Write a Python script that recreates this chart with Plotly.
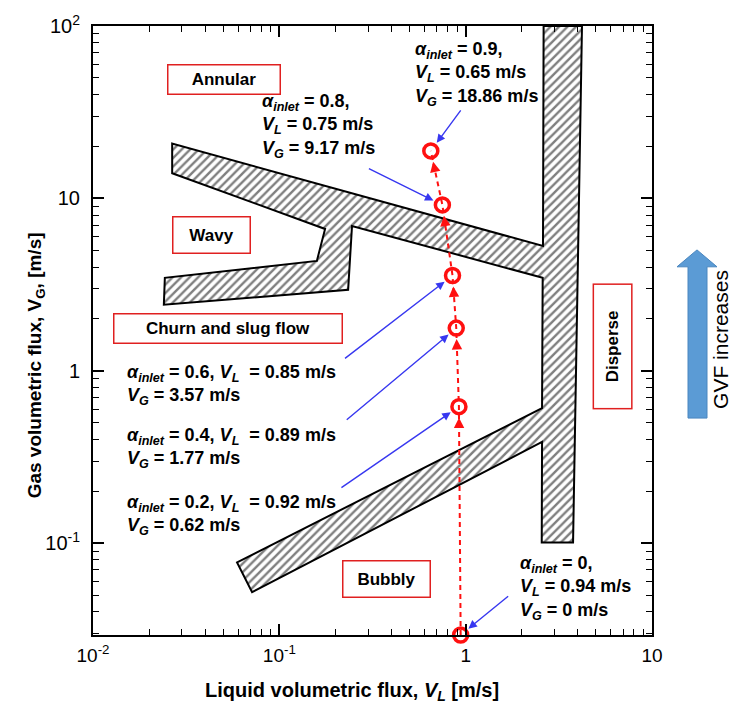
import numpy as np
import plotly.graph_objects as go

# ---------------- data ----------------
alpha_inlet = [0, 0.2, 0.4, 0.6, 0.8, 0.9]
VL = [0.94, 0.92, 0.89, 0.85, 0.75, 0.65]          # liquid volumetric flux [m/s]
VG = [0.0, 0.62, 1.77, 3.57, 9.17, 18.86]          # gas volumetric flux [m/s]

# flow-regime transition band (hatched), outline vertices in data units
band_x = [2.62, 2.60, 0.0266, 0.0266, 0.176, 0.159, 0.0243, 0.0240, 0.234, 0.2455,
          2.59, 2.57, 0.0593, 0.0714, 2.57, 2.56, 3.77, 4.21, 2.62]
band_y = [100, 5.30, 20.8, 14.0, 6.65, 4.34, 3.465, 2.42, 2.95, 6.92,
          3.465, 0.6075, 0.0775, 0.052, 0.387, 0.101, 0.101, 100, 100]

regime_labels = ["Annular", "Wavy", "Churn and slug flow", "Bubbly", "Disperse"]

x_tickvals = [0.01, 0.1, 1, 10]
x_ticktext = ["10<sup>-2</sup>", "10<sup>-1</sup>", "1", "10"]
y_tickvals = [0.1, 1, 10, 100]
y_ticktext = ["10<sup>-1</sup>", "1", "10", "10<sup>2</sup>"]

X_RANGE = [-2, 1]
Y_RANGE = [-1.532, 2]

# ---------------- layout geometry ----------------
W, H = 747, 703
ML, MR, MT, MB = 93, 95, 23, 68
PW, PH = W - ML - MR, H - MT - MB
pxx = PW / (X_RANGE[1] - X_RANGE[0])
pxy = PH / (Y_RANGE[1] - Y_RANGE[0])

def px(xp):
    return (xp - ML) / PW

def py(yp):
    return (H - MB - yp) / PH

VG_plot = [v if v > 0 else 10 ** Y_RANGE[0] for v in VG]

FONT = "Arial, Liberation Sans, sans-serif"

minor_x = [m * 10.0 ** e for e in (-2, -1, 0) for m in range(2, 10)]
minor_y = [m * 10.0 ** e for e in (-2, -1, 0, 1) for m in range(2, 10)
           if 10 ** Y_RANGE[0] <= m * 10.0 ** e <= 100]

fig = go.Figure()

# hatched band
fig.add_trace(go.Scatter(
    x=band_x, y=band_y, mode="lines", fill="toself",
    fillcolor="white",
    fillpattern=dict(shape="/", fgcolor="black", bgcolor="white", size=6, solidity=0.4),
    line=dict(color="black", width=2), hoverinfo="skip", showlegend=False))

# red dashed path
fig.add_trace(go.Scatter(
    x=VL, y=VG_plot, mode="lines",
    line=dict(color="#FF1010", width=2, dash="5px,4px"),
    hoverinfo="skip", showlegend=False, cliponaxis=False))

# red circles
fig.add_trace(go.Scatter(
    x=VL, y=VG_plot, mode="markers",
    marker=dict(symbol="circle-open", size=14, color="#FF1010", line=dict(width=3.5, color="#FF1010")),
    showlegend=False, cliponaxis=False))

ann = []

# arrowheads along the dashed path
for i in range(1, len(VL)):
    dx = (np.log10(VL[i]) - np.log10(VL[i - 1])) * pxx
    dy = (np.log10(VG_plot[i]) - np.log10(VG_plot[i - 1])) * pxy
    n = np.hypot(dx, dy)
    L = 22
    ann.append(dict(x=np.log10(VL[i]), y=np.log10(VG_plot[i]), xref="x", yref="y",
                    ax=-dx / n * L, ay=dy / n * L, text="", showarrow=True,
                    arrowhead=2, arrowsize=1.3, arrowwidth=1.6, arrowcolor="#FF1010",
                    standoff=11))

# blue pointer arrows (pixel offsets of text end relative to point)
blue_offsets = [(49, -40), (-119, 82), (-111, 93), (-109, 84), (-75, -37), (31, -42)]
for i, (ox, oy) in enumerate(blue_offsets):
    ann.append(dict(x=np.log10(VL[i]), y=np.log10(VG_plot[i]), xref="x", yref="y",
                    ax=ox, ay=oy, text="", showarrow=True, arrowhead=2, arrowsize=1.2,
                    arrowwidth=1.4, arrowcolor="#3737F0", standoff=10))

# data annotations text
SP = "&nbsp;"
def lbl(i, inline):
    a = f"<i>α<sub>inlet</sub></i> = {alpha_inlet[i]:g},"
    vl = (f"<i>V<sub>L</sub></i>{SP}= {VL[i]:g} m/s" if not inline
          else f"<i>V<sub>L</sub></i>{SP}{SP}= {VL[i]:g} m/s")
    vg = f"<i>V<sub>G</sub></i>{SP}= {VG[i]:g} m/s"
    if inline:
        return f"<b>{a} {vl}<br>{vg}</b>"
    return f"<b>{a}<br>{vl}<br>{vg}</b>"

text_pos = {0: (518, 587.5, False), 1: (125, 514, True), 2: (125, 447, True),
            3: (125, 384, True), 4: (260, 123.5, False), 5: (413, 71.5, False)}
for i, (xl, yc, inline) in text_pos.items():
    ann.append(dict(x=px(xl), y=py(yc), xref="paper", yref="paper", xanchor="left",
                    yanchor="middle", align="left", showarrow=False, text=lbl(i, inline),
                    font=dict(family=FONT, size=18, color="black")))

# regime boxes: (center x, center y, width, height, angle)
boxes = [(223.5, 76.5, 107, 24, 0), (211, 233.5, 72, 31, 0), (227.5, 327, 223, 24, 0),
         (386, 578.5, 82, 31, 0), (612.5, 345.5, 119, 33, -90)]
for name, (cx, cy, bw, bh, ang) in zip(regime_labels, boxes):
    ann.append(dict(x=px(cx), y=py(cy), xref="paper", yref="paper", xanchor="center",
                    yanchor="middle", showarrow=False, text=f"<b>{name}</b>",
                    font=dict(family=FONT, size=17, color="black"),
                    bordercolor="#E02020", borderwidth=1.5, borderpad=2,
                    bgcolor="white", width=bw, height=bh, textangle=ang))

# axis titles
ann.append(dict(x=px(352), y=py(692), xref="paper", yref="paper", showarrow=False,
                yanchor="middle",
                text="<b>Liquid volumetric flux, <i>V<sub>L</sub></i> [m/s]</b>",
                font=dict(family=FONT, size=20, color="black")))
ann.append(dict(x=px(22), y=py(364), xref="paper", yref="paper", showarrow=False,
                textangle=-90,
                text="<b>Gas volumetric flux, V<sub>G</sub>, [m/s]</b>",
                font=dict(family=FONT, size=19, color="black")))

# GVF text
ann.append(dict(x=px(734), y=py(338), xref="paper", yref="paper", showarrow=False,
                textangle=-90, text="GVF increases",
                font=dict(family=FONT, size=21, color="black")))

# big blue arrow (paper coords)
ax0, ax1, hx0, hx1, xc = px(688), px(707), px(677), px(717), px(697)
ytop, yhead, ybot = py(248), py(265), py(417)
path = (f"M {ax0} {ybot} L {ax0} {yhead} L {hx0} {yhead} L {xc} {ytop} "
        f"L {hx1} {yhead} L {ax1} {yhead} L {ax1} {ybot} Z")
shapes = [dict(type="path", path=path, xref="paper", yref="paper",
               fillcolor="#5B9BD5", line=dict(color="#4A86BF", width=1))]

axis_common = dict(type="log", showgrid=False, zeroline=False, showline=True,
                   linecolor="black", linewidth=2, mirror="allticks",
                   ticks="inside", ticklen=11, tickwidth=1.5, tickcolor="black")

fig.update_layout(
    width=W, height=H, margin=dict(l=ML, r=MR, t=MT, b=MB),
    paper_bgcolor="white", plot_bgcolor="white",
    xaxis=dict(range=X_RANGE, tickvals=x_tickvals, ticktext=x_ticktext,
               tickfont=dict(family=FONT, size=19, color="black"), ticklabelstandoff=2,
               minor=dict(ticks="inside", ticklen=6, tickwidth=1.2, tickcolor="black",
                          tickvals=minor_x, showgrid=False),
               **axis_common),
    yaxis=dict(range=Y_RANGE, tickvals=y_tickvals, ticktext=y_ticktext,
               tickfont=dict(family=FONT, size=20, color="black"), ticklabelstandoff=7,
               minor=dict(ticks="inside", ticklen=6, tickwidth=1.2, tickcolor="black",
                          tickvals=minor_y, showgrid=False),
               **axis_common),
    annotations=ann, shapes=shapes, showlegend=False)

fig.write_html("out.html")
